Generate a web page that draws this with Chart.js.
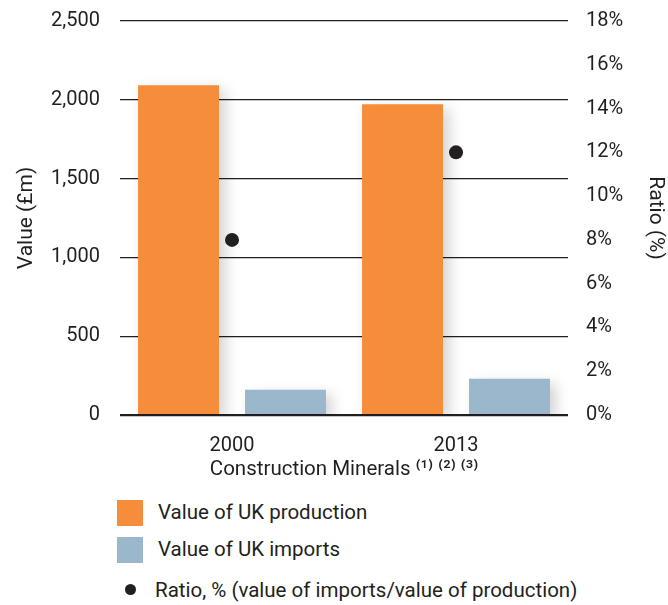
<!DOCTYPE html>
<html>
<head>
<meta charset="utf-8">
<script src="https://cdn.jsdelivr.net/npm/chart.js@4"></script>
<style>
  body { margin: 0; background: #fff; font-family: Roboto, "DejaVu Sans", sans-serif; color: #231f20; }
  #wrap { position: relative; width: 668px; height: 605px; }
  #chartBox { position: absolute; left: 0; top: 0; width: 668px; height: 490px; }
  #legend { position: absolute; left: 117px; top: 500px; font-size: 20.5px; }
  .item { position: relative; height: 37px; }
  .item.last { margin-top: 4px; }
  .sw { position: absolute; left: 0; top: 0; width: 26px; height: 26px; }
  .dot { position: absolute; left: 8px; top: 6px; width: 11px; height: 11px; border-radius: 50%; }
  .txt { position: absolute; left: 41px; top: 0px; white-space: nowrap; }
</style>
</head>
<body>
<div id="wrap">
  <div id="chartBox"><canvas id="myChart"></canvas></div>
  <div id="legend"></div>
</div>
<script>
const years = ['2000', '2013'];
const production = [2092, 1971];
const imports = [160, 230];
const ratio = [8, 12];
const leftTicks = [0, 500, 1000, 1500, 2000, 2500];

const orange = '#f58d3a';
const blue = '#9bb7cb';
const dark = '#231f20';
const fontFam = 'Roboto, "DejaVu Sans", sans-serif';

// soft shadow behind the bars like in the print version
const barShadow = {
  id: 'barShadow',
  beforeDatasetDraw(chart, args) {
    if (args.meta.type !== 'bar') return;
    const c = chart.ctx;
    c.save();
    c.shadowColor = 'rgba(0,0,0,0.18)';
    c.shadowBlur = 14;
    c.shadowOffsetX = 6;
    c.shadowOffsetY = 5;
  },
  afterDatasetDraw(chart, args) {
    if (args.meta.type !== 'bar') return;
    chart.ctx.restore();
  }
};

const ctx = document.getElementById('myChart');
const chart = new Chart(ctx, {
  type: 'bar',
  plugins: [barShadow],
  data: {
    labels: years,
    datasets: [
      {
        type: 'line',
        label: 'Ratio, % (value of imports/value of production)',
        data: ratio,
        yAxisID: 'y1',
        showLine: false,
        pointRadius: 7,
        pointBackgroundColor: dark,
        pointBorderWidth: 0,
        backgroundColor: dark,
        order: 0
      },
      {
        label: 'Value of UK production',
        data: production,
        backgroundColor: orange,
        barPercentage: 0.757,
        categoryPercentage: 0.955,
        order: 1
      },
      {
        label: 'Value of UK imports',
        data: imports,
        backgroundColor: blue,
        barPercentage: 0.757,
        categoryPercentage: 0.955,
        order: 1
      }
    ]
  },
  options: {
    responsive: true,
    maintainAspectRatio: false,
    animation: false,
    layout: { padding: { top: 21, left: 0, right: 0, bottom: 0 } },
    plugins: {
      legend: { display: false },
      tooltip: { enabled: false }
    },
    scales: {
      x: {
        grid: { display: false },
        border: { display: false },
        ticks: { color: dark, padding: 11, font: { family: fontFam, size: 20 } },
        title: {
          display: true,
          text: 'Construction Minerals ⁽¹⁾ ⁽²⁾ ⁽³⁾',
          color: dark,
          font: { family: fontFam, size: 20.5 },
          padding: { top: 0, bottom: 8 }
        },
        afterFit: s => { s.height = 75; }
      },
      y: {
        position: 'left',
        min: 0,
        max: 2500,
        afterBuildTicks: s => { s.ticks = leftTicks.map(v => ({ value: v })); },
        grid: {
          color: dark,
          drawTicks: false,
          lineWidth: c => (c.tick && c.tick.value === 0 ? 2.2 : 1.2)
        },
        border: { display: false },
        ticks: {
          color: dark,
          padding: 20,
          font: { family: fontFam, size: 20 },
          callback: v => v.toLocaleString('en-GB')
        },
        title: {
          display: true,
          text: 'Value (£m)',
          color: dark,
          font: { family: fontFam, size: 21 },
          padding: { top: 14, bottom: 0 }
        },
        afterFit: s => { s.width = 120; s.paddingTop = 0; s.paddingBottom = 0; }
      },
      y1: {
        position: 'right',
        min: 0,
        max: 18,
        grid: { display: false, drawTicks: false },
        border: { display: false },
        ticks: {
          stepSize: 2,
          color: dark,
          padding: 18,
          font: { family: fontFam, size: 20 },
          callback: v => v + '%'
        },
        title: {
          display: true,
          text: 'Ratio (%)',
          color: dark,
          font: { family: fontFam, size: 21 },
          padding: { top: 0, bottom: 0 }
        },
        afterFit: s => { s.width = 100; s.paddingTop = 0; s.paddingBottom = 0; }
      }
    }
  }
});

// legend below the chart, one item per line
const legend = document.getElementById('legend');
[1, 2, 0].forEach(i => {
  const ds = chart.data.datasets[i];
  const item = document.createElement('div');
  item.className = ds.type === 'line' ? 'item last' : 'item';
  const mark = document.createElement('div');
  mark.className = ds.type === 'line' ? 'dot' : 'sw';
  mark.style.background = ds.backgroundColor;
  const txt = document.createElement('div');
  txt.className = 'txt';
  txt.textContent = ds.label;
  if (ds.type === 'line') txt.style.left = '38px';
  item.appendChild(mark);
  item.appendChild(txt);
  legend.appendChild(item);
});
</script>
</body>
</html>
